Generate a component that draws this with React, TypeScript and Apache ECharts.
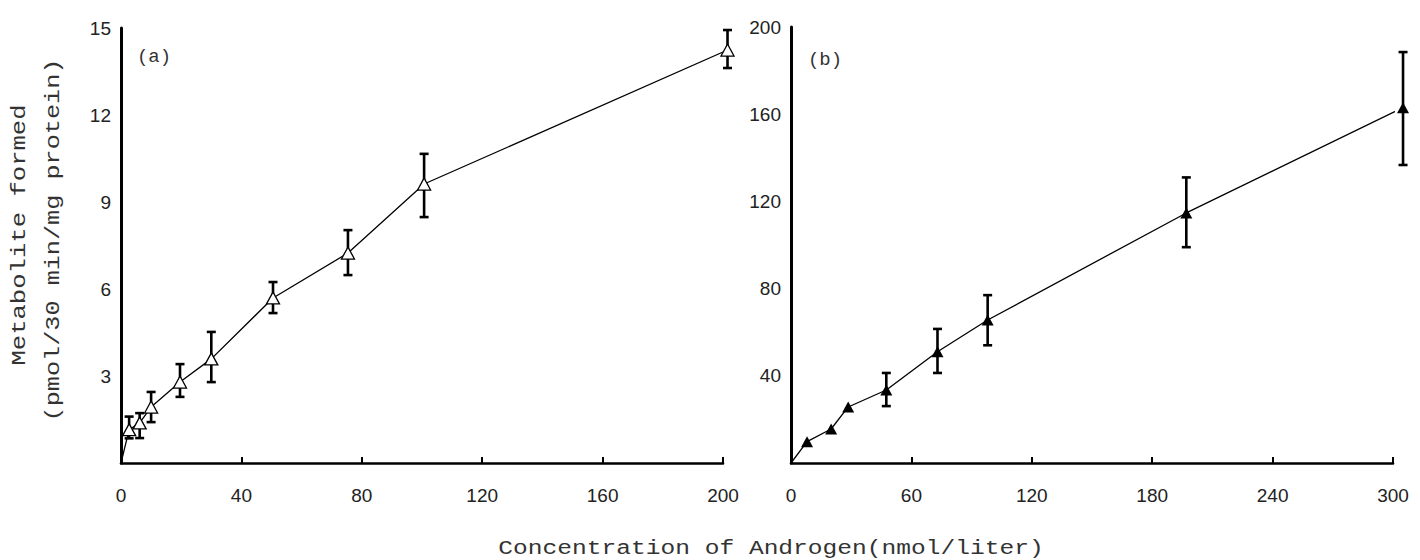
import React, { useEffect, useRef } from "react";
import * as echarts from "echarts";

// Panel (a): open triangles
const aX = [2.7, 6.2, 10, 19.6, 30, 50.5, 75.4, 100.7, 201.5];
const aY = [1.15, 1.38, 1.93, 2.79, 3.59, 5.69, 7.24, 9.62, 14.24];
const aLo = [0.85, 0.86, 1.41, 2.28, 2.79, 5.17, 6.48, 8.48, 13.62];
const aHi = [1.6, 1.72, 2.45, 3.41, 4.52, 6.24, 8.03, 10.66, 14.93];

// Panel (b): filled triangles
const bX = [8, 20, 28.5, 47.5, 73, 98, 197, 305];
const bY = [9.8, 15.6, 25.7, 33.5, 51, 65.6, 114.7, 163];
const bLo: (number | null)[] = [null, null, null, 26.1, 41.3, 54, 99, 136.7];
const bHi: (number | null)[] = [null, null, null, 41.3, 61.5, 77, 131, 188.5];

const yTitle1 = "Metabolite formed";
const yTitle2 = "(pmol/30 min/mg protein)";
const xTitle = "Concentration of Androgen(nmol/liter)";

const MONO = "'Liberation Mono', 'DejaVu Sans Mono', monospace";
const SANS = "'Liberation Sans', Arial, sans-serif";

function errRender(params: any, api: any) {
  const x = api.value(0);
  const lo = api.value(1);
  const hi = api.value(2);
  const pLo = api.coord([x, lo]);
  const pHi = api.coord([x, hi]);
  const w = 4.5;
  const st = { stroke: "#000", lineWidth: 2.6 };
  return {
    type: "group",
    children: [
      { type: "line", shape: { x1: pLo[0], y1: pLo[1], x2: pHi[0], y2: pHi[1] }, style: st },
      { type: "line", shape: { x1: pLo[0] - w, y1: pLo[1], x2: pLo[0] + w, y2: pLo[1] }, style: st },
      { type: "line", shape: { x1: pHi[0] - w, y1: pHi[1], x2: pHi[0] + w, y2: pHi[1] }, style: st },
    ],
  };
}

export default function App() {
  const ref = useRef<HTMLDivElement>(null);
  useEffect(() => {
    if (!ref.current) return;
    const chart = echarts.init(ref.current, null, { renderer: "svg" });

    const aPts = aX.map((x, i) => [x, aY[i]]);
    const bPts = bX.map((x, i) => [x, bY[i]]);
    const aErr = aX.map((x, i) => [x, aLo[i], aHi[i]]);
    const bErr = bX
      .map((x, i) => [x, bLo[i], bHi[i]])
      .filter((d) => d[1] != null && d[2] != null);

    const xAxisBase = (gi: number, max: number, interval: number) => ({
      type: "value",
      gridIndex: gi,
      min: 0,
      max,
      interval,
      splitLine: { show: false },
      axisLine: { show: true, lineStyle: { color: "#000", width: 2.6 } },
      axisTick: { show: true, inside: true, length: 6, lineStyle: { color: "#000", width: 2 } },
      axisLabel: { color: "#222", fontSize: 19, fontFamily: SANS, margin: 23 },
    });
    const yAxisBase = (gi: number, max: number, interval: number) => ({
      type: "value",
      gridIndex: gi,
      min: 0,
      max,
      interval,
      splitLine: { show: false },
      axisLine: { show: true, lineStyle: { color: "#000", width: 3 } },
      axisTick: { show: false },
      axisLabel: { color: "#222", fontSize: 19, fontFamily: SANS, margin: 10, showMinLabel: false },
    });

    chart.setOption({
      animation: false,
      backgroundColor: "#fff",
      grid: [
        { left: 121, top: 28, width: 602, height: 435 },
        { left: 791, top: 27, width: 602, height: 436 },
      ],
      xAxis: [xAxisBase(0, 200, 40), xAxisBase(1, 300, 60)],
      yAxis: [yAxisBase(0, 15, 3), yAxisBase(1, 200, 40)],
      series: [
        {
          type: "line",
          xAxisIndex: 0,
          yAxisIndex: 0,
          data: [[0, 0], ...aPts],
          symbol: "none",
          lineStyle: { color: "#000", width: 1.3 },
          clip: false,
          z: 2,
        },
        {
          type: "custom",
          xAxisIndex: 0,
          yAxisIndex: 0,
          data: aErr,
          renderItem: errRender,
          encode: { x: 0, y: [1, 2] },
          clip: false,
          z: 3,
        },
        {
          type: "scatter",
          xAxisIndex: 0,
          yAxisIndex: 0,
          data: aPts,
          symbol: "triangle",
          symbolSize: [13, 12],
          itemStyle: { color: "#fff", borderColor: "#000", borderWidth: 1.3, opacity: 1 },
          clip: false,
          z: 4,
        },
        {
          type: "line",
          xAxisIndex: 1,
          yAxisIndex: 1,
          data: [[0, 0], ...bPts],
          symbol: "none",
          lineStyle: { color: "#000", width: 1.3 },
          clip: false,
          z: 2,
        },
        {
          type: "custom",
          xAxisIndex: 1,
          yAxisIndex: 1,
          data: bErr,
          renderItem: errRender,
          encode: { x: 0, y: [1, 2] },
          clip: false,
          z: 3,
        },
        {
          type: "scatter",
          xAxisIndex: 1,
          yAxisIndex: 1,
          data: bPts,
          symbol: "triangle",
          symbolSize: [12, 11],
          itemStyle: { color: "#000", opacity: 1 },
          clip: false,
          z: 4,
        },
      ],
      graphic: [
        {
          type: "text",
          x: 20,
          y: 235,
          rotation: Math.PI / 2,
          scaleX: 1.22,
          style: {
            text: yTitle1,
            font: `21px ${MONO}`,
            fill: "#333",
            textAlign: "center",
            textVerticalAlign: "middle",
          },
        },
        {
          type: "text",
          x: 54,
          y: 240,
          rotation: Math.PI / 2,
          scaleX: 1.2,
          style: {
            text: yTitle2,
            font: `21px ${MONO}`,
            fill: "#333",
            textAlign: "center",
            textVerticalAlign: "middle",
          },
        },
        {
          type: "text",
          x: 771,
          y: 548,
          scaleX: 1.17,
          style: {
            text: xTitle,
            font: `21px ${MONO}`,
            fill: "#333",
            textAlign: "center",
            textVerticalAlign: "middle",
          },
        },
        {
          type: "text",
          x: 154,
          y: 57,
          style: {
            text: "(a)",
            font: `19px ${MONO}`,
            fill: "#333",
            textAlign: "center",
            textVerticalAlign: "middle",
          },
        },
        {
          type: "text",
          x: 825,
          y: 60,
          style: {
            text: "(b)",
            font: `19px ${MONO}`,
            fill: "#333",
            textAlign: "center",
            textVerticalAlign: "middle",
          },
        },
      ],
    });
    return () => chart.dispose();
  }, []);
  return (
    <div
      ref={ref}
      style={{ position: "fixed", left: 0, top: 0, width: 1420, height: 560, background: "#fff" }}
    />
  );
}
